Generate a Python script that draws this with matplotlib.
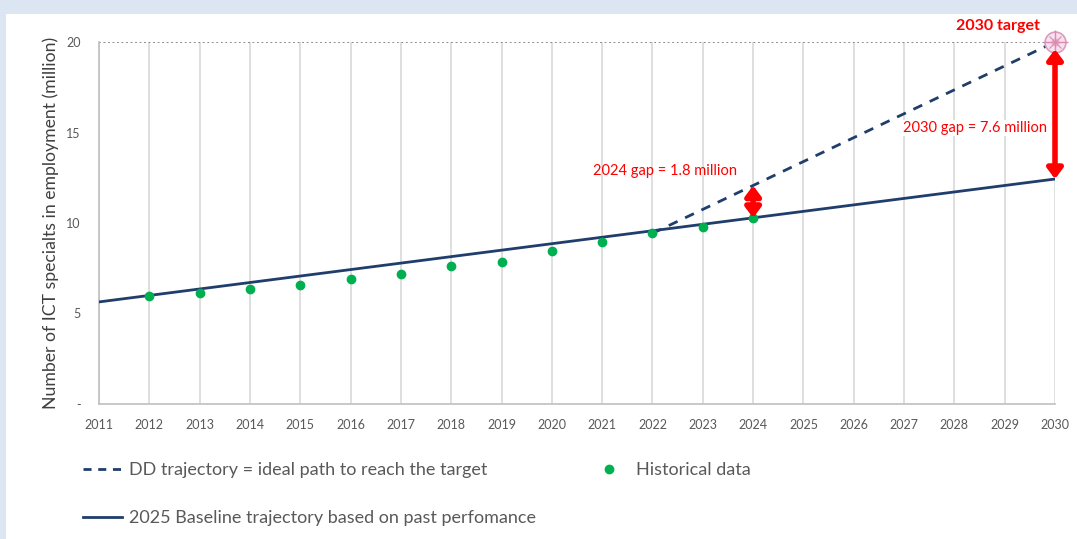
import matplotlib
matplotlib.use("Agg")
import matplotlib.pyplot as plt
from matplotlib.patches import Rectangle

plt.rcParams['font.family'] = ['Lato', 'DejaVu Sans']

# ---- data ----
years = list(range(2011, 2031))
hist_years = [2012, 2013, 2014, 2015, 2016, 2017, 2018, 2019, 2020, 2021, 2022, 2023, 2024]
hist_values = [5.97, 6.13, 6.33, 6.55, 6.88, 7.20, 7.60, 7.85, 8.45, 8.95, 9.43, 9.80, 10.28]
baseline_years = [2011, 2030]
baseline_values = [5.64, 12.43]
dd_years = [2022, 2030]
dd_values = [9.43, 20.0]
target_year = 2030
target_value = 20.0
gap2024 = (2024, 10.28, 12.07)
gap2030 = (2030, 12.43, 19.6)
ytick_vals = [0, 5, 10, 15, 20]
ytick_labels = ['-', '5', '10', '15', '20']

navy = '#1f3e6b'
green = '#00b050'
red = '#ff0000'
gray_txt = '#595959'

fig = plt.figure(figsize=(10.77, 5.39), dpi=100)
fig.patch.set_facecolor('#dce6f2')
fig.patches.append(Rectangle((6/1077, 0), 1 - 6/1077, 1 - 14/539, transform=fig.transFigure,
                             facecolor='white', edgecolor='none', zorder=-10))

ax = fig.add_axes([99/1077, 1 - 404/539, 956/1077, 362/539])
ax.set_facecolor('none')
ax.set_xlim(2011, 2030)
ax.set_ylim(0, 20)

for y in years:
    ax.axvline(y, color='#d9d9d9', lw=1.2, zorder=1)

ax.plot([2011, 2030], [target_value, target_value], color='#7f7f7f', lw=1.3, ls=(0, (1, 1.5)), zorder=2)

ax.plot(dd_years, dd_values, color=navy, lw=2, ls=(0, (3.5, 3)), zorder=3,
        label='DD trajectory = ideal path to reach the target')
ax.plot(baseline_years, baseline_values, color=navy, lw=2, zorder=3,
        label='2025 Baseline trajectory based on past perfomance')
ax.plot(hist_years, hist_values, 'o', color=green, ms=6, ls='none', zorder=4,
        label='Historical data')

# target marker
ax.plot([target_year], [target_value], 'o', ms=15, mfc='#f8e1ec', mec='#dc9cbf', mew=1.2, clip_on=False, zorder=5)
ax.plot([target_year], [target_value], 'o', ms=6, mfc='#eeb4d0', mec='none', clip_on=False, zorder=5)
ax.plot([target_year], [target_value], '+', ms=18, mec='#d98cb3', mew=1, clip_on=False, zorder=6)
ax.plot([target_year], [target_value], 'x', ms=8, mec='#d98cb3', mew=0.8, clip_on=False, zorder=6)

# gap arrows
for (gx, lo, hi) in [gap2024, gap2030]:
    ax.annotate('', xy=(gx, hi), xytext=(gx, lo),
                arrowprops=dict(arrowstyle='<|-|>,head_length=0.6,head_width=0.45', color=red, lw=4,
                                mutation_scale=10, shrinkA=0, shrinkB=0), zorder=7)

ax.text(2022.25, 12.85, '2024 gap = 1.8 million', color=red, fontsize=10.5, ha='center', va='center')
ax.text(2029.85, 15.25, '2030 gap = 7.6 million', color=red, fontsize=10.5, ha='right', va='center',
        bbox=dict(facecolor='white', edgecolor='none', pad=0.5))
ax.text(2029.7, 20.9, '2030 target', color=red, fontsize=11.5, fontweight='bold', ha='right', va='center')

ax.set_yticks(ytick_vals)
ax.set_yticklabels(ytick_labels)
ax.set_xticks(years)
ax.set_xticklabels([str(y) for y in years])
ax.tick_params(axis='both', length=0, labelsize=9, labelcolor=gray_txt)
ax.tick_params(axis='y', pad=13)
ax.tick_params(axis='x', pad=11)
for s in ['top', 'right']:
    ax.spines[s].set_visible(False)
ax.spines['left'].set_color('#bfbfbf')
ax.spines['bottom'].set_color('#bfbfbf')
ax.spines['left'].set_linewidth(1.2)
ax.spines['bottom'].set_linewidth(1.2)

ax.set_ylabel('Number of ICT specialts in employment (million)', fontsize=12.7, color='#404040', labelpad=5)

h, l = ax.get_legend_handles_labels()
leg = fig.legend(h, l, ncol=2, frameon=False,
                 loc='upper left', bbox_to_anchor=(67/1077, 1 - 446/539),
                 fontsize=13, labelcolor=gray_txt, handlelength=2.17, handletextpad=0.39,
                 labelspacing=1.75, columnspacing=2.95)
leg.get_lines()[0].set_linestyle((0, (2.9, 2.4)))

fig.savefig('out.png', dpi=100)
